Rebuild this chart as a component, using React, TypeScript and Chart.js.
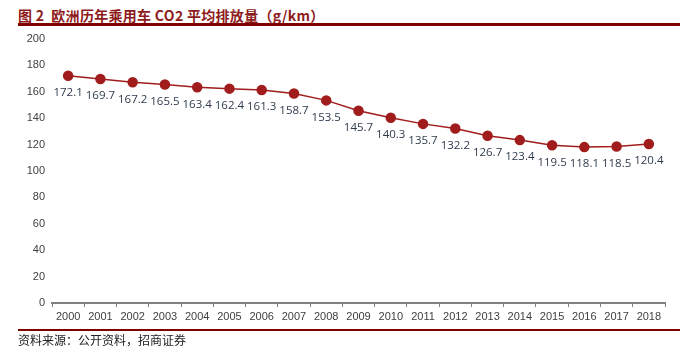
import React, { useEffect, useRef } from "react";
import { Chart, registerables } from "chart.js";

Chart.register(...registerables);

const TITLE = "图 2  欧洲历年乘用车 CO2 平均排放量（g/km）";
const SOURCE = "资料来源：公开资料，招商证券";
const years = ["2000","2001","2002","2003","2004","2005","2006","2007","2008","2009","2010","2011","2012","2013","2014","2015","2016","2017","2018"];
const emissions = [172.1,169.7,167.2,165.5,163.4,162.4,161.3,158.7,153.5,145.7,140.3,135.7,132.2,126.7,123.4,119.5,118.1,118.5,120.4];
const yTicks = [0,20,40,60,80,100,120,140,160,180,200];

const labelPlugin = {
  id: "pointLabels",
  afterDatasetsDraw(chart: any) {
    const ctx = chart.ctx;
    const meta = chart.getDatasetMeta(0);
    ctx.save();
    ctx.font = "11.5px 'Open Sans', sans-serif";
    ctx.fillStyle = "#2F3B4C";
    ctx.textAlign = "center";
    ctx.textBaseline = "middle";
    meta.data.forEach((pt: any, i: number) => {
      ctx.fillText(emissions[i].toFixed(1), pt.x, pt.y + 17);
    });
    ctx.restore();
  },
};

export default function App() {
  const ref = useRef<HTMLCanvasElement>(null);
  useEffect(() => {
    document.body.style.margin = "0";
    const chart = new Chart(ref.current!, {
      type: "line",
      data: {
        labels: years,
        datasets: [
          {
            data: emissions,
            borderColor: "#A11C1C",
            backgroundColor: "#A11C1C",
            borderWidth: 1.5,
            pointRadius: 4.5,
            pointBackgroundColor: "#A11C1C",
            pointBorderColor: "#A11C1C",
            tension: 0,
          },
        ],
      },
      options: {
        responsive: false,
        animation: false,
        layout: { padding: { top: 39, right: 29, bottom: 27, left: 0 } },
        plugins: { legend: { display: false }, tooltip: { enabled: false } },
        scales: {
          x: {
            offset: true,
            grid: {
              display: true,
              offset: true,
              drawOnChartArea: false,
              drawTicks: true,
              tickLength: 4,
              color: "#808080",
              lineWidth: 1,
            },
            border: { display: true, color: "#808080", width: 2 },
            ticks: {
              color: "#404040",
              font: { size: 11, family: "'Liberation Sans', Arial, sans-serif" },
              padding: 3,
              maxRotation: 0,
              autoSkip: false,
            },
            afterFit(scale: any) {
              scale.height = 25;
            },
          },
          y: {
            min: 0,
            max: 200,
            grid: { display: false, drawTicks: false },
            border: { display: false },
            afterBuildTicks(scale: any) {
              scale.ticks = yTicks.map((v) => ({ value: v }));
            },
            ticks: {
              color: "#404040",
              font: { size: 11, family: "'Liberation Sans', Arial, sans-serif" },
              padding: 7,
            },
            afterFit(scale: any) {
              scale.width = 52;
            },
          },
        },
      },
      plugins: [labelPlugin],
    });
    return () => chart.destroy();
  }, []);

  return (
    <div style={{ position: "relative", width: 694, height: 355, background: "#fff" }}>
      <div
        style={{
          position: "absolute",
          left: 18,
          top: 6,
          fontFamily: "'Noto Sans CJK SC', sans-serif",
          fontWeight: 700,
          fontSize: 14,
          letterSpacing: 0.3,
          color: "#8E1B1B",
          whiteSpace: "pre",
          lineHeight: "18px",
        }}
      >
        {TITLE}
      </div>
      <div style={{ position: "absolute", left: 18, top: 23, width: 662, height: 3, background: "#800000" }} />
      <canvas ref={ref} width={694} height={355} style={{ position: "absolute", left: 0, top: 0 }} />
      <div style={{ position: "absolute", left: 18, top: 329, width: 662, height: 2, background: "#800000" }} />
      <div
        style={{
          position: "absolute",
          left: 18,
          top: 332,
          fontFamily: "'Noto Sans CJK SC', sans-serif",
          fontSize: 12,
          color: "#222",
          lineHeight: "16px",
        }}
      >
        {SOURCE}
      </div>
    </div>
  );
}
